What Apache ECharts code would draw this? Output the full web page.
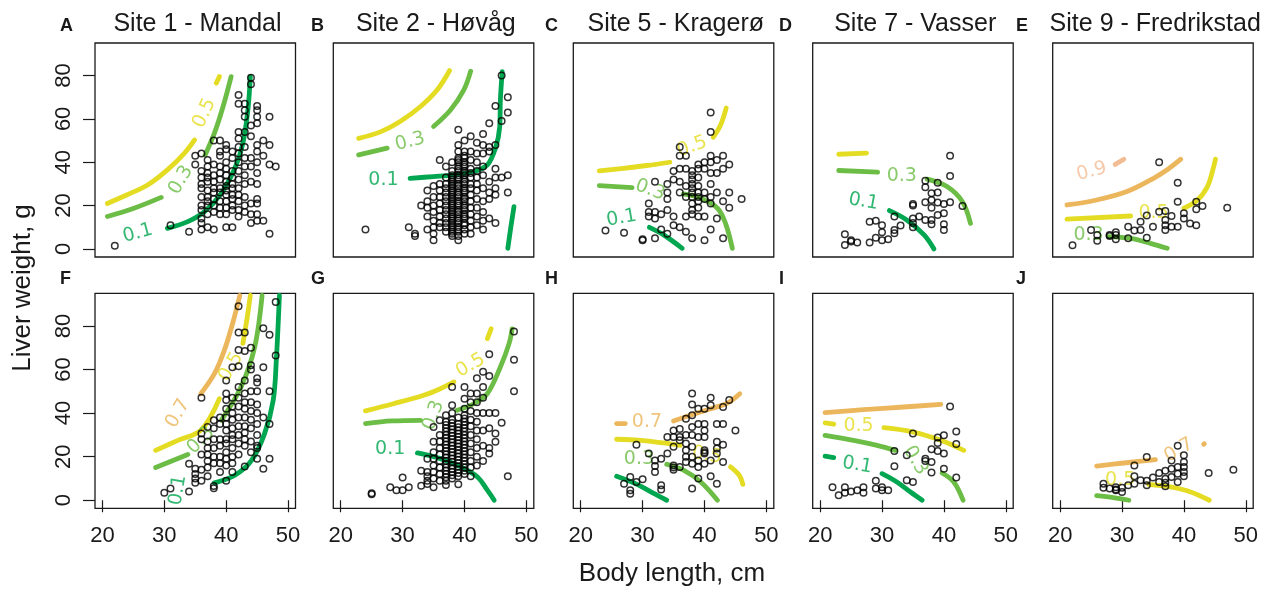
<!DOCTYPE html>
<html>
<head>
<meta charset="utf-8">
<script src="https://cdn.jsdelivr.net/npm/echarts@6/dist/echarts.min.js"></script>
<style>
  html, body { margin: 0; padding: 0; background: #fff; }
  #chart { width: 1274px; height: 589px; }
</style>
</head>
<body>
<div id="chart"></div>
<script>
// panel titles / letters
const titles = ['Site 1 - Mandal', 'Site 2 - Høvåg', 'Site 5 - Kragerø', 'Site 7 - Vasser', 'Site 9 - Fredrikstad']
const letters = ['A', 'B', 'C', 'D', 'E', 'F', 'G', 'H', 'I', 'J']
const xTicks = [20, 30, 40, 50]
const yTicks = [0, 20, 40, 60, 80]

// points: [body length, [liver weights...]]
const ptsA = [[22,[1.5]],[31,[11]],[34,[8]],[35,[43,39]],
  [36,[44,36,33,30,28,24,20,18,14,12,9]],[37,[41,38,35,33,31,27,24,22,20,16,10]],
  [38,[50,39,34,31,28,26,23,20,17,9]],[39,[50,45,43,38,35,32,28,26,22,19,16]],
  [40,[48,46,40,37,34,31,29,27,25,22,19,16,10]],[41,[45,42,36,33,30,28,25,23,20,18,10]],
  [42,[71,67,54,51,47,44,40,36,32,28,25,22,18,15]],[43,[67,64,61,54,47,42,38,34,30,24,20,17]],
  [44,[79,76,57,52,42,38,31,21,16,12]],[45,[66,64,61,58,48,45,40,35,30,23,21,16,13]],
  [46,[50,43,13]],[47,[61,48,39,7]],[48,[38]]]
const ptsB = [[24,[9]],[31,[10]],[32,[7,6]],[33,[20]],[34,[27,22,19,15,9]],[35,[29,24,20,17,13,10,7,4]],
  [36,[41,30,27,24,21,18,15,12,10]],[37,[38,33,30,28,26,24,22,20,18,16,14,12,10,8]],
  [38,[40,36,34,32,30,28,26,24,22,20,18,16,14,12,10,8,6,33,31,29,27,25,23,21,19,17,15,13,11,9,7]],
  [39,[55,48,42,40,38,36,34,32,30,28,26,24,22,20,18,16,14,12,10,8,6,4,45,41,37,33,29,25,21,17,13,9]],
  [40,[50,45,42,40,38,36,34,32,30,28,26,24,22,20,18,16,14,12,9,7,43,39,35,31,27,23,19,15,11]],
  [41,[52,45,41,37,35,33,30,28,25,22,19,16,13,10,7]],[42,[49,44,40,36,33,30,27,23,19,15,11]],
  [43,[53,48,44,38,34,28,22,17,13,9]],[44,[58,47,45,31,26,23,14]],[45,[66,48,37,33,28,25,12]],
  [46,[80,59,33]],[47,[70,63,34,26]]]
const ptsC = [[24,[8.5]],[27,[7.5]],[30,[4,4.5]],[31,[21,17,15]],[32,[31,17,14,5]],[33,[16,9]],
  [34,[30,26,23,18,7]],[35,[36,32,15,11]],[36,[47,43,37,31,26,10]],[37,[43,37,29,24,15,8]],
  [38,[36,34,32,30,28,26,24,21,18,16,5]],[39,[39,37,33,29,26,24,22,19,15]],[40,[40,37,26,23,15,4]],
  [41,[63,54,43,40,35,30,24,21,9]],[42,[41,35,26,14]],[43,[43,37,22,5]],[44,[39,26,19]],[46,[23]]]
const ptsD = [[24,[6.8,1.8]],[25,[4,3.4]],[26,[3]],[28,[12.6,3]],[29,[13,5.2]],[30,[11,7.7,4]],[31,[4.5]],
  [32,[15,8.8,7.2]],[33,[10.8]],[35,[20.8,20,14,12,10]],[36,[15]],[37,[31.5,28.5,21.5,13.4]],
  [38,[25.7,22.6,19,13.4,11.4]],[39,[30.6,26,21.4,15.7]],[40,[20.8,16.5,11.4,8.8]],[41,[43,33.7,21.5]],[43,[19.8]]]
const ptsE = [[22,[1.7]],[25,[8.8]],[26,[6.5,3.8]],[28,[6.5,6]],[29,[7.7,6.5,4.5]],[31,[10.3,5]],[32,[8.5]],
  [33,[12.6,8.8]],[34,[15.4,5.2]],[35,[10.3]],[36,[40,17.2]],[37,[17.5,13.4,11,8.8]],[38,[15.2,10.3]],
  [39,[30.6,21.8,10.3]],[40,[16.5,14]],[41,[11.8]],[42,[21.8,18.3,11]],[43,[19.8]],[47,[19]]]
const ptsF = [[30,[3.4]],[31,[5.4]],[34,[16.8,4]],[35,[14.5,12,10,8]],[36,[47,30.6,28,21,14,9]],
  [37,[33.6,27,24,21,18,15,11]],[38,[36.7,33,28,24,20,17,5.5,6.5]],[39,[38,35,28,25,20,17,13]],
  [40,[55,49,46,42,38,35,32,28,26,22,19,16,9]],[41,[61,47,43,40,37,33,30,28,24,20,17,13]],
  [42,[89,77,69,61.5,52,47,43,38,34,30,26,21]],[43,[77,68.5,55,49,45,42,38,34,31,28,25,15.5]],
  [44,[70,62,60,50,45,41,37,33,27,22]],[45,[56,54,50,44,40,35,30,25,24,19]],
  [46,[79,61,38,14.5]],[47,[76,50,35,19]],[48,[91,66.5]]]
const ptsG = [[25,[2.8,3.2]],[28,[6]],[29,[4.6]],[30,[10.4,4.6]],[31,[6]],[33,[13.5,6.7]],[34,[19,13,11,9,7.5]],
  [35,[33.6,26.8,22,19,16,13,10,6]],[36,[36.7,30,27,24,21,18,15,12,9]],
  [37,[39,36,33,30,27,24,21,18,15,12,9,7,34.5,31.5,28.5,25.5,22.5,19.5,16.5,13.5,10.5]],
  [38,[52,43.6,40,37,34,31,28,25,22,19,16,13,10,35.5,32.5,29.5,26.5,23.5,20.5,17.5,14.5,11.5]],
  [39,[38,35,32,29,26,23,20,17,14,11,7.3,33.5,30.5,27.5,24.5,21.5,18.5,15.5,12.5]],
  [40,[52,46.6,42,39,36,33,30,27,24,21,18,15,12,37.5,34.5,31.5,28.5,25.5,22.5,19.5,16.5,13.5]],
  [41,[49,45,41,37,34,30,26,22,18,15,11]],[42,[56,49,45,40,36,32,28,24,20,16]],
  [43,[59,52,47,40,32,25,18]],[44,[67,57,40,33,24,21.4]],[45,[40,30.6,26.8]],[46,[35.6]],[47,[11]],
  [48,[77.5,64.5,50]]]
const ptsH = [[27,[7.6]],[28,[10.7,4.6,3]],[29,[25.5,8.4]],[30,[9.6]],[31,[21.4]],[32,[18.3,15.7,13]],
  [33,[19,6.9,4.9]],[34,[29,21.4]],[35,[32,29,24.5,16,15,14]],[36,[32.7,29,27.5,15.3]],
  [37,[37.4,30,26,23,20,17.6]],[38,[49,44,39,33.6,30,24.5,20,16.8,5.4]],[39,[42,35,29,18.3,15.3,10]],
  [40,[42,35,32,29,23,22,21.4,16.8]],[41,[47,43.6,18.3,11]],[42,[35,26.8,23.7,21.4,7.6]],
  [43,[42.8,35,25.5,17.6]],[44,[46]],[45,[32]]]
const ptsI = [[22,[6]],[23,[2.3]],[24,[6,3.4]],[25,[4]],[26,[4.6]],[27,[6,3.4]],[29,[8.9,5.4]],[30,[6,4.6]],
  [31,[4.6]],[32,[22.6,15.6]],[34,[20.6,9.2]],[35,[30.6,8.4]],[37,[19,18]],[38,[23.4,17.6,12.7]],
  [39,[28.8,26.3,22.6]],[40,[29.8,21.4,14.5]],[41,[43]],[42,[31.5,25.8,10.4]]]
const ptsJ = [[27,[7.6,5.7]],[28,[5.4]],[29,[6,4.9,4.6]],[30,[5.7,3.8]],[31,[6.9]],[32,[16,11,7.6]],[33,[9.2]],
  [34,[19.9,8.9,6.9]],[35,[10.4]],[36,[12.5,8.4]],[37,[13.5,9.9,8,6.4]],[38,[18.3,14.5,10.7]],
  [39,[25,15.3,12.2,8.4]],[40,[20.6,17.6,15.3,13,11]],[44,[12.5]],[48,[14]]]

// contour segments: [level, [[x,y],...]]
const linesA = [
  ['y5',[[20.8,21],[24,25],[27.3,29.5],[30.5,36.5],[33.2,44],[34.9,50.3]]],['y5',[[38.4,76.5],[38.9,79.5]]],
  ['g3',[[20.8,15],[25.1,18.8],[29.5,23.8]]],['g3',[[36.6,43.4],[38.1,53.4],[39.5,65.7],[40.8,79.5]]],
  ['g1',[[21,4.6],[21.05,4.8]]],['g1',[[30.5,9.5],[33.8,12.6],[36.5,17.2],[39.2,25.7],[41.4,37.2],[42.7,48.8],[43.5,64],[43.9,79.5]]]]
const linesB = [
  ['y5',[[22.9,51],[26.4,54],[29.6,58.8],[32.9,65.7],[35.6,73.4],[37.6,82.3]]],
  ['g3',[[22.9,43.4],[27.5,46.5]]],['g3',[[35,56.5],[37.7,64],[39.9,73.4],[41,82]]],
  ['g1',[[31.2,32.6],[35,33.4],[38.3,34.2],[41.5,35.7],[43.7,38.8],[45,46.5],[45.7,56.5],[45.8,68.8],[46.1,81.8]]],
  ['g1',[[48,19.5],[47.5,10.3],[47,0.3]]]]
const linesC = [
  ['y5',[[23,36],[26.9,37.2],[30.7,38.5],[34.4,40]]],['y5',[[41.4,51.5],[42.6,57.2],[43.5,65]]],
  ['g3',[[23,29.2],[28.3,28.3]]],['g3',[[36.6,25.4],[39.4,23.4],[42.1,18.8],[43.4,11.8],[44.5,0.3]]],
  ['g1',[[23.1,18],[23.15,18]]],['g1',[[31.1,10],[33.4,6.5],[36.4,0.3]]]]
const linesD = [
  ['y5',[[23,43.7],[27.5,44.2]]],
  ['g3',[[23,36.2],[29.3,35.4]]],['g3',[[37.3,32.2],[40.5,28.8],[43,21.8],[44.3,11.8]]],
  ['g1',[[23.2,25.4],[23.25,25.4]]],['g1',[[31.2,17.7],[34,13.4],[36.8,6.5],[38.4,0]]]]
const linesE = [
  ['o9',[[28.9,39],[30.3,41.4]]],
  ['o7',[[21.1,20.3],[25.9,22.6],[30.8,26.5],[35.1,32.6],[37.3,36.5],[39.5,41.4]]],
  ['y5',[[21.1,13.8],[31.4,15.2]]],['y5',[[40,18.8],[42.2,22.6],[43.8,28.8],[44.6,35.7],[45.1,41.4]]],
  ['g3',[[27.8,5.7],[31.4,4.9],[34.6,2.6],[37.3,0.3]]]]
const linesF = [
  ['o7',[[35.9,48.9],[38.1,58.1],[39.7,68.8],[41.1,81.8],[42.2,94]]],
  ['y5',[[28.6,22.9],[32.2,27.5],[35.9,32.1],[38.9,46.6]]],['y5',[[42.7,72],[43.4,84],[43.9,94]]],
  ['g3',[[28.6,15],[33.8,21]]],['g3',[[39.2,36.7],[42.4,52],[44.6,70.3],[45.8,94]]],
  ['g1',[[38.1,8],[41.4,11.5],[44.1,18.3],[46.2,30.6],[47.6,45.9],[48.1,64.2],[48.6,94]]]]
const linesG = [
  ['y5',[[24,41],[28.5,44.3],[33.4,48.2],[36.1,51.2],[38.3,54.3]]],['y5',[[43.7,74.2],[44.3,78.7]]],
  ['g3',[[24,35.2],[28.3,36.4],[32.9,36.7]]],['g3',[[38.8,41.3],[41.5,44.3],[43.7,49],[45.8,61.2],[47.2,71.9],[47.7,78.7]]],
  ['g1',[[24.4,25.2],[24.5,25.2]]],['g1',[[32.4,21.7],[36.1,19.1],[39.4,15.3],[42.1,10.7],[43.7,4.6],[44.8,0]]]]
const linesH = [
  ['o7',[[25.8,35.2],[27.2,35.2]]],['o7',[[35,36.4],[37.7,39],[41,42],[43.7,44.6],[45.7,48.9]]],
  ['y5',[[25.8,28],[29.6,27.5],[33.4,26.3],[36.1,25.2]]],['y5',[[44.2,15.3],[45.6,11.5],[46.2,7.3]]],
  ['g3',[[33.9,16.5],[36.6,13.8],[39.4,8.4],[42.1,0]]],
  ['g1',[[25.8,11],[29.1,7.3],[31.8,3.1],[33.9,0]]]]
const linesI = [
  ['o7',[[20.8,40.2],[27,41.6],[33.5,42.8],[39.5,44]]],
  ['y5',[[20.8,35.5],[22.2,34.9]]],['y5',[[30.3,33.3],[35.1,31.3],[39.5,27.5],[43.2,22.9]]],
  ['g3',[[20.8,29.8],[25.4,27.5],[29.2,25.2],[32.2,22.9]]],['g3',[[39.7,12.5],[41.6,8.4],[43.1,0]]],
  ['g1',[[20.8,20.2],[22.2,19.6]]],['g1',[[30,12.2],[32.4,8.4],[34.6,3.8],[36.5,0]]]]
const linesJ = [
  ['o7',[[25.9,15.7],[30.3,17.1],[35.4,18.6]]],['o7',[[43.2,25.7],[43.3,25.9]]],
  ['y5',[[34.3,7.3],[37.8,6.1],[41.1,3.8],[44.1,0]]],
  ['g3',[[25.9,2.1],[28.6,1.2],[31.1,0]]]]

// contour labels: [level, text, x, y, rotate]
const labsA = [['g1','0.1',25.7,7.2,15],['g3','0.3',32.7,31.8,60],['y5','0.5',36.5,62.6,65]]
const labsB = [['g1','0.1',26.9,31.8,0],['g3','0.3',31.2,49.5,15]]
const labsC = [['g1','0.1',26.6,14.2,10],['g3','0.3',31.2,27.2,-20],['y5','0.5',38,47.2,20]]
const labsD = [['g1','0.1',27,21.8,-10],['g3','0.3',33.2,33.4,0]]
const labsE = [['o9','0.9',25.1,35.7,15],['y5','0.5',35.1,16.5,0],['g3','0.3',24.6,6.5,0]]
const labsF = [['o7','0.7',32.2,39.8,60],['y5','0.5',40.8,61.2,60],['g3','0.3',35.9,27.5,45],['g1','0.1',32.2,4.6,80]]
const labsG = [['y5','0.5',41,61.9,30],['g3','0.3',35,39,70],['g1','0.1',28,23.7,0]]
const labsH = [['o7','0.7',30.7,35.9,0],['y5','0.5',40.4,20.6,-10],['g3','0.3',29.4,19.1,0]]
const labsI = [['y5','0.5',26.2,34.1,0],['g3','0.3',35.4,18.3,-60],['g1','0.1',26,16.1,-10]]
const labsJ = [['o7','0.7',39.2,22.9,30],['y5','0.5',29.7,9.2,0]]

const colors = { g1: '#00a650', g3: '#6cbd45', y5: '#e4dc22', o7: '#ebb65c', o9: '#f2bc94' }

const allPts = [ptsA, ptsB, ptsC, ptsD, ptsE, ptsF, ptsG, ptsH, ptsI, ptsJ]
const allLines = [linesA, linesB, linesC, linesD, linesE, linesF, linesG, linesH, linesI, linesJ]
const allLabs = [labsA, labsB, labsC, labsD, labsE, labsF, labsG, labsH, labsI, labsJ]

const lefts = [95, 333.3, 573.3, 812.7, 1052.7]
const tops = [43, 293.3]
const font = 'Liberation Sans, Arial, Helvetica, sans-serif'

const grid = [], xAxis = [], yAxis = [], series = []
for (let i = 0; i < 10; i++) {
  const r = Math.floor(i / 5), c = i % 5
  grid.push({ left: lefts[c], top: tops[r], width: 200.5, height: r ? 215 : 214,
    show: true, borderColor: '#1a1a1a', borderWidth: 1.3, backgroundColor: 'transparent' })
  xAxis.push({
    gridIndex: i, type: 'value', min: 18.8, max: 51.2,
    axisLine: { show: false }, splitLine: { show: false },
    axisTick: { show: r === 1, customValues: xTicks, length: 12, lineStyle: { color: '#1a1a1a', width: 1.2 } },
    axisLabel: { show: r === 1, customValues: xTicks, fontSize: 22, color: '#1a1a1a', fontFamily: font, margin: 17 }
  })
  yAxis.push({
    gridIndex: i, type: 'value', min: -3.7, max: 95,
    axisLine: { show: false }, splitLine: { show: false },
    axisTick: { show: c === 0, customValues: yTicks, length: 12, lineStyle: { color: '#1a1a1a', width: 1.2 } },
    axisLabel: { show: c === 0, customValues: yTicks, rotate: 90, fontSize: 22, color: '#1a1a1a', fontFamily: font, margin: 20 }
  })
  allLines[i].forEach(([k, seg]) => {
    series.push({ type: 'line', xAxisIndex: i, yAxisIndex: i, data: seg, smooth: 0.35,
      showSymbol: false, symbol: 'none', silent: true, z: 2,
      lineStyle: { color: colors[k], width: 4.8, cap: 'round', join: 'round' } })
  })
  series.push({ type: 'scatter', xAxisIndex: i, yAxisIndex: i, symbolSize: 0, silent: true, z: 3,
    data: allLabs[i].map(l => ({ value: [l[2], l[3]],
      label: { show: true, formatter: l[1], rotate: l[4], color: colors[l[0]] } })),
    label: { position: 'inside', fontSize: 19, fontFamily: 'DejaVu Sans, sans-serif', fontWeight: 'normal' } })
  const flat = []
  allPts[i].forEach(([x, ys]) => ys.forEach(y => flat.push([x, y])))
  series.push({ type: 'scatter', xAxisIndex: i, yAxisIndex: i, data: flat, symbol: 'circle', symbolSize: 6.5,
    silent: true, z: 4, itemStyle: { color: 'rgba(0,0,0,0)', borderColor: '#000', borderWidth: 1.5 } })
}

const graphic = []
titles.forEach((t, c) => {
  graphic.push({ type: 'text', x: lefts[c] + 102.5, y: 24,
    style: { text: t, font: '25px ' + font, fill: '#1a1a1a', align: 'center', verticalAlign: 'middle' } })
})
const letterX = [60, 311, 545, 779, 1016]
letters.forEach((t, i) => {
  graphic.push({ type: 'text', x: letterX[i % 5], y: i < 5 ? 26 : 279,
    style: { text: t, font: 'bold 18px ' + font, fill: '#1a1a1a', align: 'left', verticalAlign: 'middle' } })
})
graphic.push({ type: 'text', x: 23, y: 288, rotation: Math.PI / 2,
  style: { text: 'Liver weight, g', font: '26px ' + font, fill: '#1a1a1a', align: 'center', verticalAlign: 'middle' } })
graphic.push({ type: 'text', x: 672, y: 574,
  style: { text: 'Body length, cm', font: '26px ' + font, fill: '#1a1a1a', align: 'center', verticalAlign: 'middle' } })

const chart = echarts.init(document.getElementById('chart'), null, { renderer: 'canvas' })
chart.setOption({ animation: false, grid, xAxis, yAxis, series, graphic })
</script>
</body>
</html>
